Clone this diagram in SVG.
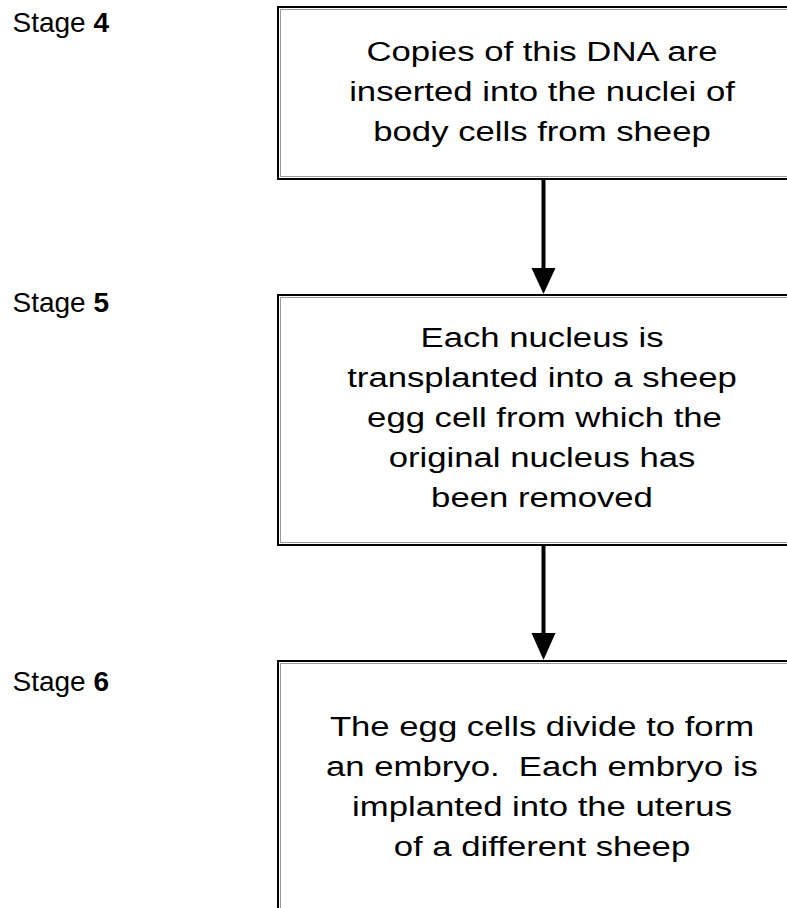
<svg xmlns="http://www.w3.org/2000/svg" width="787" height="908" viewBox="0 0 787 908">
<style>
.stage{font-family:"Liberation Sans",Arial,sans-serif;font-size:28px;fill:#000}
.b{font-weight:bold}
.box{fill:#fff;stroke:#000;stroke-width:2}
.inner{fill:none;stroke:#9a9a9a;stroke-width:1}
.t{font-family:"Liberation Sans",Arial,sans-serif;font-size:28px;fill:#000;text-anchor:middle}
.shaft{stroke:#000;stroke-width:4;fill:none}
.head{fill:#000}
</style>
<rect width="787" height="908" fill="#fff"/>
<g id="stage4"><text class="stage" x="12.5" y="32">Stage <tspan class="b">4</tspan></text></g>
<g id="stage5"><text class="stage" x="12.5" y="312">Stage <tspan class="b">5</tspan></text></g>
<g id="stage6"><text class="stage" x="12.5" y="691">Stage <tspan class="b">6</tspan></text></g>
<g id="box4">
<rect class="box" x="278" y="7" width="540" height="172"/>
<rect class="inner" x="280.5" y="9.5" width="540" height="167"/>
<g transform="translate(542,0) scale(1.24,1)">
<text class="t" x="0" y="61.5">Copies of this DNA are</text>
<text class="t" x="0" y="101">inserted into the nuclei of</text>
<text class="t" x="0" y="141">body cells from sheep</text>
</g>
</g>
<g id="box5">
<rect class="box" x="278" y="295" width="540" height="250"/>
<rect class="inner" x="280.5" y="297.5" width="540" height="245"/>
<g transform="translate(542,0) scale(1.24,1)">
<text class="t" x="0" y="347">Each nucleus is</text>
<text class="t" x="0" y="387">transplanted into a sheep</text>
<text class="t" x="2" y="427">egg cell from which the</text>
<text class="t" x="0" y="467">original nucleus has</text>
<text class="t" x="0" y="507">been removed</text>
</g>
</g>
<g id="box6">
<rect class="box" x="278" y="661" width="540" height="280"/>
<rect class="inner" x="280.5" y="663.5" width="540" height="280"/>
<g transform="translate(542,0) scale(1.24,1)">
<text class="t" x="0" y="736">The egg cells divide to form</text>
<text class="t" x="0" y="776">an embryo.&#160; Each embryo is</text>
<text class="t" x="0" y="816">implanted into the uterus</text>
<text class="t" x="0" y="856">of a different sheep</text>
</g>
</g>
<g id="connectors">
<line class="shaft" x1="543.5" y1="180" x2="543.5" y2="270"/>
<polygon class="head" points="531.5,268 555.5,268 543.5,294"/>
<line class="shaft" x1="543.5" y1="546" x2="543.5" y2="635"/>
<polygon class="head" points="531.5,633 555.5,633 543.5,660"/>
</g>
</svg>
